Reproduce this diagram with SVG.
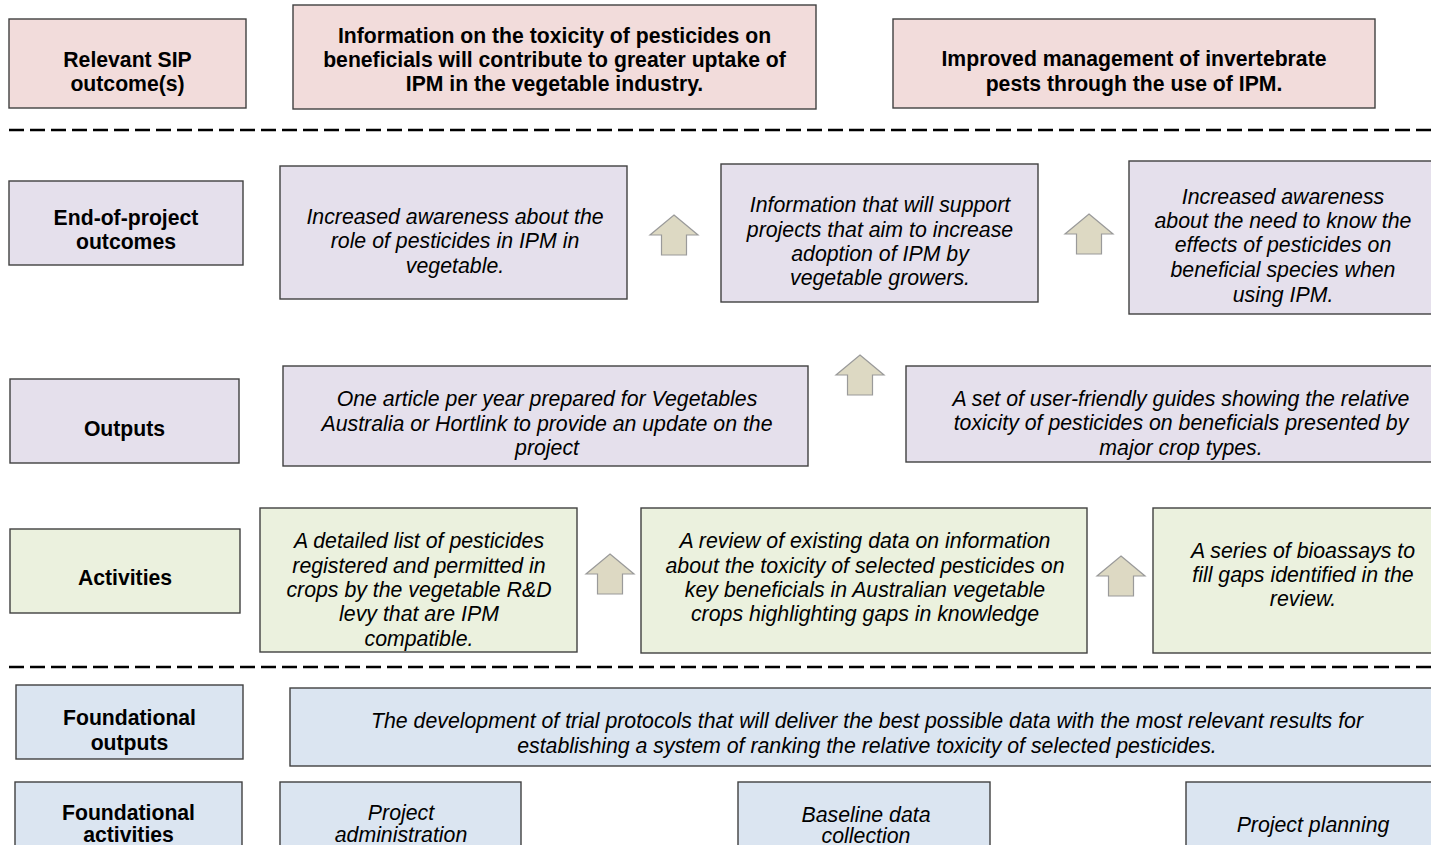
<svg xmlns="http://www.w3.org/2000/svg" width="1431" height="845" viewBox="0 0 1431 845">
<defs>
<style>
.box{stroke:#404040;stroke-width:1.4}
.pink{fill:#f2dcdb}
.purple{fill:#e5e0ec}
.green{fill:#ebf1de}
.blue{fill:#dbe5f1}
.b{font-family:"Liberation Sans",Arial,sans-serif;font-weight:bold;font-size:21.2px;fill:#000;text-anchor:middle}
.i{font-family:"Liberation Sans",Arial,sans-serif;font-style:italic;font-size:21.3px;fill:#000;text-anchor:middle}
.dash{stroke:#000;stroke-width:2.6;stroke-dasharray:15 6;fill:none}
.arrow{fill:#ddd9c3;stroke:#9a9a9a;stroke-width:1.2}
</style>
<path id="uparrow" class="arrow" d="M0,0 L24,20 L12.5,20 L12.5,40 L-12.5,40 L-12.5,20 L-24,20 Z"/>
</defs>
<rect width="1431" height="845" fill="#ffffff"/>

<g id="separators">
<line class="dash" x1="9" y1="130" x2="1431" y2="130"/>
<line class="dash" x1="9" y1="667" x2="1431" y2="667"/>
</g>

<g id="n-sip-label"><rect class="box pink" x="9" y="19" width="237" height="89"/>
<text class="b" x="127.5" y="66.5">Relevant SIP</text><text class="b" x="127.5" y="90.5">outcome(s)</text></g>
<g id="n-sip-1"><rect class="box pink" x="293" y="5" width="523" height="104"/>
<text class="b" x="554.5" y="42.5">Information on the toxicity of pesticides on</text>
<text class="b" x="554.5" y="66.5">beneficials will contribute to greater uptake of</text>
<text class="b" x="554.5" y="90.5">IPM in the vegetable industry.</text></g>
<g id="n-sip-2"><rect class="box pink" x="893" y="19" width="482" height="89"/>
<text class="b" x="1134" y="66">Improved management of invertebrate</text>
<text class="b" x="1134" y="90.5">pests through the use of IPM.</text></g>

<g id="n-eop-label"><rect class="box purple" x="9" y="181" width="234" height="84"/>
<text class="b" x="126" y="224.5">End-of-project</text><text class="b" x="126" y="248.5">outcomes</text></g>
<g id="n-eop-1"><rect class="box purple" x="280" y="166" width="347" height="133"/>
<text class="i" x="455" y="223.5">Increased awareness about the</text>
<text class="i" x="455" y="247.5">role of pesticides in IPM in</text>
<text class="i" x="455" y="272.5">vegetable.</text></g>
<g id="n-eop-2"><rect class="box purple" x="721" y="164" width="317" height="138"/>
<text class="i" x="880" y="211.5">Information that will support</text>
<text class="i" x="880" y="236.5">projects that aim to increase</text>
<text class="i" x="880" y="260.5">adoption of IPM by</text>
<text class="i" x="880" y="284.5">vegetable growers.</text></g>
<g id="n-eop-3"><rect class="box purple" x="1129" y="161" width="320" height="153"/>
<text class="i" x="1283" y="203.5">Increased awareness</text>
<text class="i" x="1283" y="227.5">about the need to know the</text>
<text class="i" x="1283" y="251.5">effects of pesticides on</text>
<text class="i" x="1283" y="276.5">beneficial species when</text>
<text class="i" x="1283" y="301.5">using IPM.</text></g>

<g id="n-out-label"><rect class="box purple" x="10" y="379" width="229" height="84"/>
<text class="b" x="124.5" y="435.5">Outputs</text></g>
<g id="n-out-1"><rect class="box purple" x="283" y="366" width="525" height="100"/>
<text class="i" x="547" y="405.5">One article per year prepared for Vegetables</text>
<text class="i" x="547" y="430.5">Australia or Hortlink to provide an update on the</text>
<text class="i" x="547" y="454.5">project</text></g>
<g id="n-out-2"><rect class="box purple" x="906" y="366" width="540" height="96"/>
<text class="i" x="1181" y="405.5">A set of user-friendly guides showing the relative</text>
<text class="i" x="1181" y="429.5">toxicity of pesticides on beneficials presented by</text>
<text class="i" x="1181" y="454.5">major crop types.</text></g>

<g id="n-act-label"><rect class="box green" x="10" y="529" width="230" height="84"/>
<text class="b" x="125" y="584.5">Activities</text></g>
<g id="n-act-1"><rect class="box green" x="260" y="508" width="317" height="144"/>
<text class="i" x="419" y="547.5">A detailed list of pesticides</text>
<text class="i" x="419" y="572.5">registered and permitted in</text>
<text class="i" x="419" y="596.5">crops by the vegetable R&amp;D</text>
<text class="i" x="419" y="620.5">levy that are IPM</text>
<text class="i" x="419" y="645.5">compatible.</text></g>
<g id="n-act-2"><rect class="box green" x="641" y="508" width="446" height="145"/>
<text class="i" x="865" y="547.5">A review of existing data on information</text>
<text class="i" x="865" y="572.5">about the toxicity of selected pesticides on</text>
<text class="i" x="865" y="596.5">key beneficials in Australian vegetable</text>
<text class="i" x="865" y="620.5">crops highlighting gaps in knowledge</text></g>
<g id="n-act-3"><rect class="box green" x="1153" y="508" width="300" height="145"/>
<text class="i" x="1303" y="557.5">A series of bioassays to</text>
<text class="i" x="1303" y="581.5">fill gaps identified in the</text>
<text class="i" x="1303" y="605.5">review.</text></g>

<g id="n-fo-label"><rect class="box blue" x="16" y="685" width="227" height="74"/>
<text class="b" x="129.5" y="724.5">Foundational</text><text class="b" x="129.5" y="749.5">outputs</text></g>
<g id="n-fo-1"><rect class="box blue" x="290" y="688" width="1160" height="78"/>
<text class="i" x="867" y="727.5">The development of trial protocols that will deliver the best possible data with the most relevant results for</text>
<text class="i" x="867" y="752.5">establishing a system of ranking the relative toxicity of selected pesticides.</text></g>

<g id="n-fa-label"><rect class="box blue" x="15" y="782" width="227" height="80"/>
<text class="b" x="128.5" y="819.5">Foundational</text><text class="b" x="128.5" y="842">activities</text></g>
<g id="n-fa-1"><rect class="box blue" x="280" y="782" width="241" height="80"/>
<text class="i" x="401" y="819.5">Project</text><text class="i" x="401" y="842">administration</text></g>
<g id="n-fa-2"><rect class="box blue" x="738" y="782" width="252" height="80"/>
<text class="i" x="866" y="821.5">Baseline data</text><text class="i" x="866" y="843">collection</text></g>
<g id="n-fa-3"><rect class="box blue" x="1186" y="782" width="260" height="80"/>
<text class="i" x="1313" y="831.5">Project planning</text></g>

<g id="connectors">
<use href="#uparrow" x="674" y="215"/>
<use href="#uparrow" x="1089" y="214"/>
<use href="#uparrow" x="860" y="355"/>
<use href="#uparrow" x="610" y="554"/>
<use href="#uparrow" x="1121" y="556"/>
</g>
</svg>
